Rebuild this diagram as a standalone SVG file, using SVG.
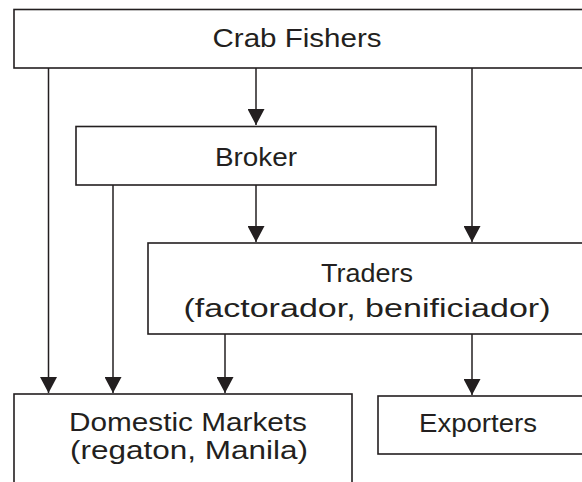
<svg xmlns="http://www.w3.org/2000/svg" width="582" height="482" viewBox="0 0 582 482">
<style>
.box{fill:#fff;stroke:#231f20;stroke-width:1.6}
.lbl{font-family:"Liberation Sans",Arial,sans-serif;font-size:26px;fill:#231f20;text-anchor:middle}
.con{fill:none;stroke:#231f20;stroke-width:1.5}
</style>
<defs>
<marker id="ah" markerUnits="userSpaceOnUse" markerWidth="17" markerHeight="17" refX="16" refY="8.5" orient="auto">
<path d="M0,0 L16,8.5 L0,17 Z" fill="#231f20"/>
</marker>
</defs>
<rect width="582" height="482" fill="#fff"/>
<g id="crab-fishers">
<rect class="box" x="14" y="9.5" width="620" height="58.5"/>
<text class="lbl" x="297" y="47" textLength="169" lengthAdjust="spacingAndGlyphs">Crab Fishers</text>
</g>
<g id="broker">
<rect class="box" x="76" y="126.5" width="360" height="58.5"/>
<text class="lbl" x="256" y="166" textLength="82" lengthAdjust="spacingAndGlyphs">Broker</text>
</g>
<g id="traders">
<rect class="box" x="148" y="243" width="480" height="91"/>
<text class="lbl" x="367" y="282" textLength="92" lengthAdjust="spacingAndGlyphs">Traders</text>
<text class="lbl" x="367" y="317" textLength="367" lengthAdjust="spacingAndGlyphs">(factorador, benificiador)</text>
</g>
<g id="domestic-markets">
<rect class="box" x="14" y="394" width="338" height="120"/>
<text class="lbl" x="188" y="431" textLength="238" lengthAdjust="spacingAndGlyphs">Domestic Markets</text>
<text class="lbl" x="189" y="459" textLength="238" lengthAdjust="spacingAndGlyphs">(regaton, Manila)</text>
</g>
<g id="exporters">
<rect class="box" x="378" y="396" width="250" height="58"/>
<text class="lbl" x="478" y="432" textLength="118" lengthAdjust="spacingAndGlyphs">Exporters</text>
</g>
<g id="connectors">
<line class="con" x1="48.5" y1="68" x2="48.5" y2="393" marker-end="url(#ah)"/>
<line class="con" x1="256" y1="68" x2="256" y2="125" marker-end="url(#ah)"/>
<line class="con" x1="472" y1="68" x2="472" y2="242" marker-end="url(#ah)"/>
<line class="con" x1="113" y1="185" x2="113" y2="393" marker-end="url(#ah)"/>
<line class="con" x1="256" y1="185" x2="256" y2="242" marker-end="url(#ah)"/>
<line class="con" x1="225" y1="334" x2="225" y2="393" marker-end="url(#ah)"/>
<line class="con" x1="472" y1="334" x2="472" y2="395" marker-end="url(#ah)"/>
</g>
</svg>
